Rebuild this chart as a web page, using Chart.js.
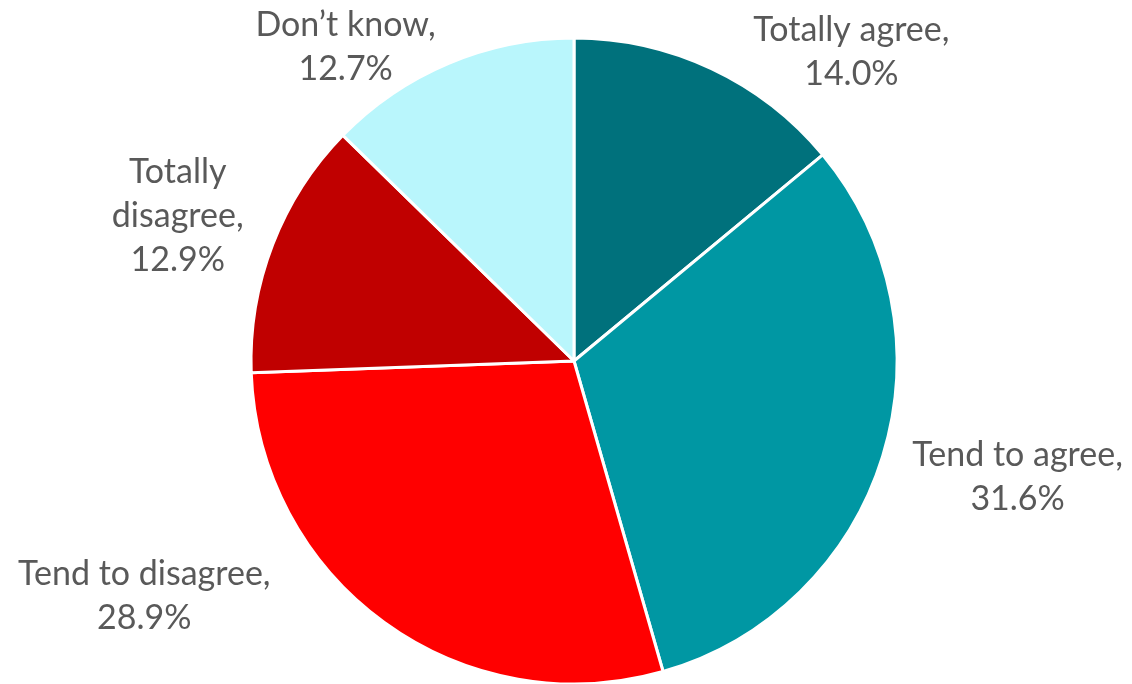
<!DOCTYPE html>
<html>
<head>
<meta charset="utf-8">
<script src="https://cdn.jsdelivr.net/npm/chart.js@4"></script>
<style>
  html, body { margin: 0; padding: 0; background: #fff; }
  #wrap { width: 1132px; height: 684px; }
</style>
</head>
<body>
<div id="wrap"><canvas id="pieChart" width="1132" height="684"></canvas></div>
<script>
// datos del grafico
const categories = ['Totally agree', 'Tend to agree', 'Tend to disagree', 'Totally disagree', 'Don\u2019t know'];
const shares = [14.0, 31.6, 28.9, 12.9, 12.7];
const sliceColors = ['#00717C', '#0097A3', '#FF0000', '#C00000', '#B9F6FC'];

// como se parte cada etiqueta en lineas
const labelBreaks = [[2], [3], [3], [1], [2]];
// desplazamiento de la etiqueta desde el borde del sector
const labelOffsets = [[140, -17], [135, 21], [-240, -26], [-95, -29], [-103, -16]];

function labelLines(i) {
  const words = (categories[i] + ',').split(' ');
  const lines = [];
  let start = 0;
  labelBreaks[i].forEach(b => { lines.push(words.slice(start, b).join(' ')); start = b; });
  if (start < words.length) lines.push(words.slice(start).join(' '));
  lines.push(shares[i].toFixed(1) + '%');
  return lines;
}

const outsideLabels = {
  id: 'outsideLabels',
  afterDatasetsDraw(chart) {
    const c = chart.ctx;
    const meta = chart.getDatasetMeta(0);
    c.save();
    c.font = '34px Lato, "Open Sans", sans-serif';
    c.fillStyle = '#595959';
    c.textAlign = 'center';
    c.textBaseline = 'middle';
    const lh = 44;
    meta.data.forEach((arc, i) => {
      const mid = (arc.startAngle + arc.endAngle) / 2;
      const ex = arc.x + Math.cos(mid) * arc.outerRadius;
      const ey = arc.y + Math.sin(mid) * arc.outerRadius;
      const cx = ex + labelOffsets[i][0];
      const cy = ey + labelOffsets[i][1];
      const lines = labelLines(i);
      lines.forEach((t, k) => {
        c.fillText(t, cx, cy + (k - (lines.length - 1) / 2) * lh);
      });
    });
    c.restore();
  }
};

const ctx = document.getElementById('pieChart').getContext('2d');
const pieChart = new Chart(ctx, {
  type: 'pie',
  data: {
    labels: categories,
    datasets: [{
      data: shares,
      backgroundColor: sliceColors,
      borderColor: '#ffffff',
      borderWidth: 3
    }]
  },
  options: {
    responsive: false,
    animation: false,
    radius: 323,
    layout: { padding: { left: 16, right: 0, top: 38, bottom: 0 } },
    plugins: {
      legend: { display: false },
      tooltip: { enabled: false }
    }
  },
  plugins: [outsideLabels]
});
</script>
</body>
</html>
